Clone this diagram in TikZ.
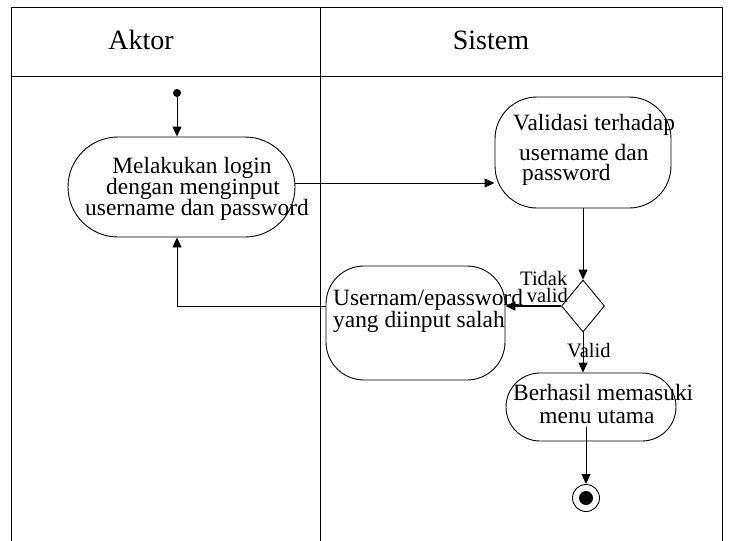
\documentclass[tikz,border=0pt]{standalone}
\usepackage{fontspec}
\setmainfont{Liberation Serif}
\usetikzlibrary{arrows.meta,shapes.geometric}
\tikzset{
  ln/.style={line width=0.9pt, draw=black},
  arr/.style={ln, -{Triangle[length=10pt,width=9pt]}},
  act/.style={ln, shape=rectangle, inner sep=0pt},
  bigtxt/.style={inner sep=0pt, font=\fontsize{23.4}{21}\selectfont},
  smalltxt/.style={inner sep=0pt, font=\fontsize{20.5}{18}\selectfont},
  headtxt/.style={inner sep=0pt, font=\fontsize{28}{30}\selectfont},
}
\begin{document}
\begin{tikzpicture}[x=1pt,y=-1pt]
\useasboundingbox (0,0) rectangle (729,541);
% swimlane table
\draw[ln] (11,541) -- (11,7) -- (722,7) -- (722,541);
\draw[ln] (11,76) -- (722,76);
\draw[ln] (320,7) -- (320,541);
\node[headtxt, anchor=base] (hakt) at (141,49) {Aktor};
\node[headtxt, anchor=base] (hsis) at (491,49) {Sistem};

% start
\node[circle, fill=black, minimum size=8pt, inner sep=0pt] (start) at (177,93) {};

% activities
\node[act, rounded corners=50pt, minimum width=227pt, minimum height=100pt] (mel) at (181.5,187) {};
\node[bigtxt, anchor=base] (mel1) at (192,173) {Melakukan login};
\node[bigtxt, anchor=base] (mel2) at (193,194) {dengan menginput};
\node[bigtxt, anchor=base] (mel3) at (197,215) {username dan password};

\node[act, rounded corners=42pt, minimum width=176pt, minimum height=111pt] (val) at (583,152.5) {};
\node[bigtxt, anchor=base west] (val1) at (513,130) {Validasi terhadap};
\node[bigtxt, anchor=base west] (val2) at (519,160) {username dan};
\node[bigtxt, anchor=base west] (val3) at (522,180) {password};

\node[ln, shape=diamond, minimum width=43pt, minimum height=52pt, inner sep=0pt, aspect=0.8] (dia) at (583,306) {};

\node[act, rounded corners=38pt, minimum width=179pt, minimum height=114pt] (usr) at (415.5,323) {};
\node[bigtxt, anchor=base west] (usr1) at (333,305) {Usernam/epassword};
\node[bigtxt, anchor=base west] (usr2) at (333,327) {yang diinput salah};

\node[act, rounded corners=34pt, minimum width=170pt, minimum height=68pt] (ber) at (591,407) {};
\node[bigtxt, anchor=base west] (ber1) at (513,400) {Berhasil memasuki};
\node[bigtxt, anchor=base] (ber2) at (597,423) {menu utama};

% end
\node[ln, circle, minimum size=27pt, inner sep=0pt] (end) at (586,498) {};
\node[circle, fill=black, minimum size=14pt, inner sep=0pt] (endin) at (end.center) {};

% labels
\node[smalltxt, anchor=base west] (ltid) at (520,285) {Tidak};
\node[smalltxt, anchor=base east] (lval) at (568,302) {valid};
\node[smalltxt, anchor=base west] (lv) at (567,357) {Valid};

% connectors
\draw[arr] (start) -- (start |- mel.north);
\draw[arr] ([yshift=4pt]mel.east) -- ([yshift=4pt]mel.east -| val.west);
\draw[arr] (val.south) -- (dia.north);
\draw[arr, line width=1.6pt] (dia.west) -- (dia.west -| usr.east);
\draw[arr] (usr.west |- dia.west) -| (start |- mel.south);
\draw[arr] (dia.south) -- (dia.south |- ber.north);
\draw[arr] ([yshift=14pt]ber.south -| end) -- (end.north);
\end{tikzpicture}
\end{document}
